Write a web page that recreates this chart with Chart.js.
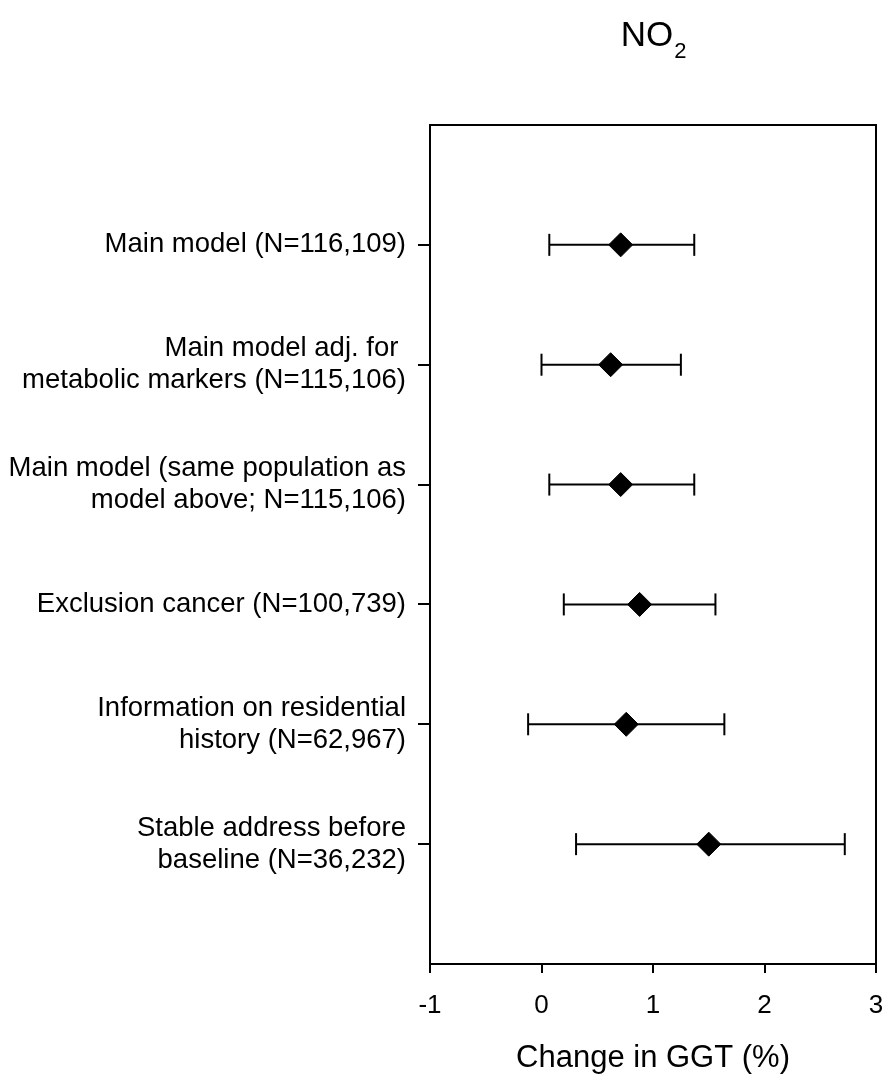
<!DOCTYPE html>
<html><head><meta charset="utf-8">
<script src="https://cdn.jsdelivr.net/npm/chart.js@4.4.1/dist/chart.umd.min.js"></script>
<style>html,body{margin:0;padding:0;background:#fff;} canvas{display:block;}</style>
</head><body>
<canvas id="c" width="889" height="1074"></canvas>
<script>
const categories = [
  ['Main model (N=116,109)'],
  ['Main model adj. for ', 'metabolic markers (N=115,106)'],
  ['Main model (same population as', 'model above; N=115,106)'],
  ['Exclusion cancer (N=100,739)'],
  ['Information on residential', 'history (N=62,967)'],
  ['Stable address before', 'baseline (N=36,232)']
];
const estimate = [0.71, 0.62, 0.71, 0.88, 0.76, 1.50];
const lower = [0.07, 0.00, 0.07, 0.20, -0.12, 0.31];
const upper = [1.37, 1.25, 1.37, 1.56, 1.64, 2.72];
const xTicks = [-1, 0, 1, 2, 3];
const titleMain = 'NO';
const titleSub = '2';
const xTitle = 'Change in GGT (%)';

const FAM = '"Liberation Sans", Arial, sans-serif';

const ciSets = categories.map((c, i) => ({
  type: 'line',
  data: [{x: lower[i], y: i + 1}, {x: upper[i], y: i + 1}],
  borderColor: '#000', borderWidth: 2, fill: false,
  pointStyle: 'line', pointRotation: 90, pointRadius: 11,
  pointBorderWidth: 2, pointBorderColor: '#000', pointBackgroundColor: '#000',
  order: 2
}));
const estSet = {
  type: 'scatter',
  data: estimate.map((v, i) => ({x: v, y: i + 1})),
  pointStyle: 'rectRot', pointRadius: 12,
  backgroundColor: '#000', borderColor: '#000', pointBorderWidth: 1,
  order: 1
};

const framePlugin = {
  id: 'frame',
  beforeDatasetsDraw(chart) {
    const {ctx, chartArea: a} = chart;
    ctx.save();
    ctx.strokeStyle = '#000';
    ctx.lineWidth = 2;
    ctx.strokeRect(a.left, a.top, a.right - a.left, a.bottom - a.top);
    ctx.restore();
  },
  afterDraw(chart) {
    const {ctx, chartArea: a} = chart;
    ctx.save();
    ctx.fillStyle = '#000';
    ctx.textBaseline = 'alphabetic';
    ctx.font = '35px ' + FAM;
    const w1 = ctx.measureText(titleMain).width;
    ctx.font = '22px ' + FAM;
    const w2 = ctx.measureText(titleSub).width;
    const cx = (a.left + a.right) / 2;
    const x0 = cx - (w1 + w2) / 2;
    ctx.font = '35px ' + FAM;
    ctx.fillText(titleMain, x0, 46);
    ctx.font = '22px ' + FAM;
    ctx.fillText(titleSub, x0 + w1 + 1, 58);
    ctx.restore();
  }
};

new Chart(document.getElementById('c'), {
  type: 'scatter',
  data: {datasets: [...ciSets, estSet]},
  options: {
    responsive: false,
    animation: false,
    layout: {padding: {top: 125, right: 11, bottom: 0, left: 0}},
    plugins: {legend: {display: false}, tooltip: {enabled: false}, title: {display: false}},
    scales: {
      x: {
        type: 'linear', min: -1, max: 3,
        afterBuildTicks: s => { s.ticks = xTicks.map(v => ({value: v})); },
        grid: {display: true, drawOnChartArea: false, drawTicks: true, tickLength: 9, color: '#000', lineWidth: 2},
        border: {display: false},
        ticks: {color: '#000', font: {family: FAM, size: 26}, padding: 17, maxRotation: 0, autoSkip: false},
        title: {display: true, text: xTitle, color: '#000', font: {family: FAM, size: 31, lineHeight: 1.0}, padding: {top: 0, bottom: 0}},
        afterFit: s => { s.height = 110; s.paddingLeft = 0; s.paddingRight = 0; }
      },
      y: {
        type: 'linear', min: 0, max: 7, reverse: true,
        afterBuildTicks: s => { s.ticks = categories.map((_, i) => ({value: i + 1})); },
        grid: {display: true, drawOnChartArea: false, drawTicks: true, tickLength: 12, color: '#000', lineWidth: 2},
        border: {display: false},
        ticks: {color: '#000', font: {family: FAM, size: 27.5, lineHeight: 1.16}, padding: 12, autoSkip: false,
          callback: v => categories[v - 1]},
        afterFit: s => { s.width = 430; s.paddingTop = 0; s.paddingBottom = 0; }
      }
    }
  },
  plugins: [framePlugin]
});
</script>
</body></html>
